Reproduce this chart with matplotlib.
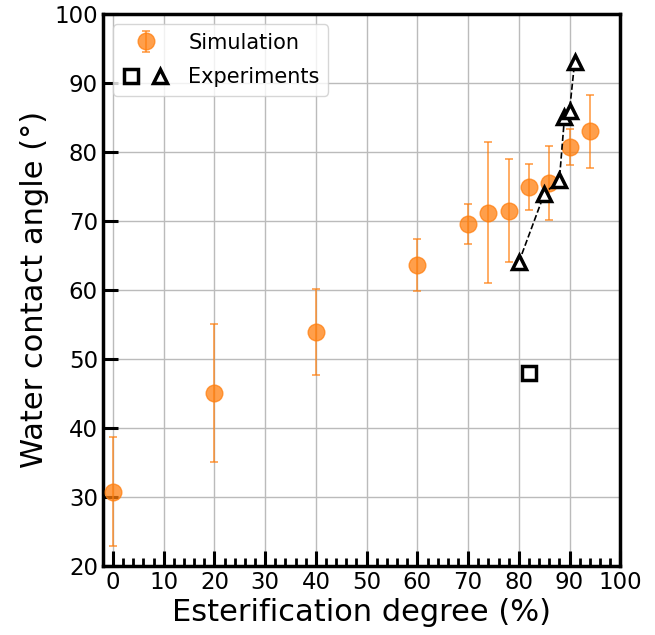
import matplotlib
matplotlib.use("Agg")
import matplotlib.pyplot as plt
from matplotlib.legend_handler import HandlerTuple
from matplotlib.ticker import MultipleLocator

# simulation data
sim_x = [0, 20, 40, 60, 70, 74, 78, 82, 86, 90, 94]
sim_y = [30.7, 45.1, 53.9, 63.6, 69.6, 71.2, 71.5, 74.9, 75.5, 80.7, 83.0]
sim_err = [7.9, 10.0, 6.2, 3.8, 2.9, 10.2, 7.5, 3.3, 5.3, 2.6, 5.3]

# experiments
tri_x = [80, 85, 88, 89, 90, 91]
tri_y = [64.0, 73.9, 76.0, 85.0, 86.0, 93.0]
sq_x = [82]
sq_y = [48.0]

fig = plt.figure(figsize=(6.55, 6.35), dpi=100)
ax = fig.add_axes([0.157, 0.109, 0.79, 0.869])

sim = ax.errorbar(sim_x, sim_y, yerr=sim_err, fmt="o", color="#ff7f0e", alpha=0.75,
                  markersize=12, elinewidth=1.2, capsize=3, capthick=1.2, zorder=3)

ax.plot(tri_x, tri_y, "k--", linewidth=1.2, zorder=4)
tri, = ax.plot(tri_x, tri_y, "^", markersize=10, markerfacecolor="white",
               markeredgecolor="black", markeredgewidth=2.5, linestyle="none", zorder=5)
sq, = ax.plot(sq_x, sq_y, "s", markersize=10, markerfacecolor="white",
              markeredgecolor="black", markeredgewidth=2.5, linestyle="none", zorder=5)

ax.set_xlim(-2, 100)
ax.set_ylim(20, 100)
ax.xaxis.set_major_locator(MultipleLocator(10))
ax.xaxis.set_minor_locator(MultipleLocator(2))
ax.yaxis.set_major_locator(MultipleLocator(10))

ax.grid(True, which="major", color="#bbbbbb", linewidth=1)
ax.set_axisbelow(True)

for s in ax.spines.values():
    s.set_linewidth(2.5)

ax.tick_params(axis="both", which="major", direction="in", length=11, width=2.2,
               labelsize=16.5)
ax.tick_params(axis="x", which="minor", direction="in", length=6, width=2)

ax.set_xlabel("Esterification degree (%)", fontsize=22, labelpad=3)
ax.set_ylabel("Water contact angle (°)", fontsize=22)

ax.legend([sim, (sq, tri)], ["Simulation", "Experiments"],
          handler_map={tuple: HandlerTuple(ndivide=None, pad=0.5)},
          loc="upper left", fontsize=15, handlelength=2.3, handletextpad=0.9,
          labelspacing=0.7)

fig.savefig("out.png", dpi=100)
